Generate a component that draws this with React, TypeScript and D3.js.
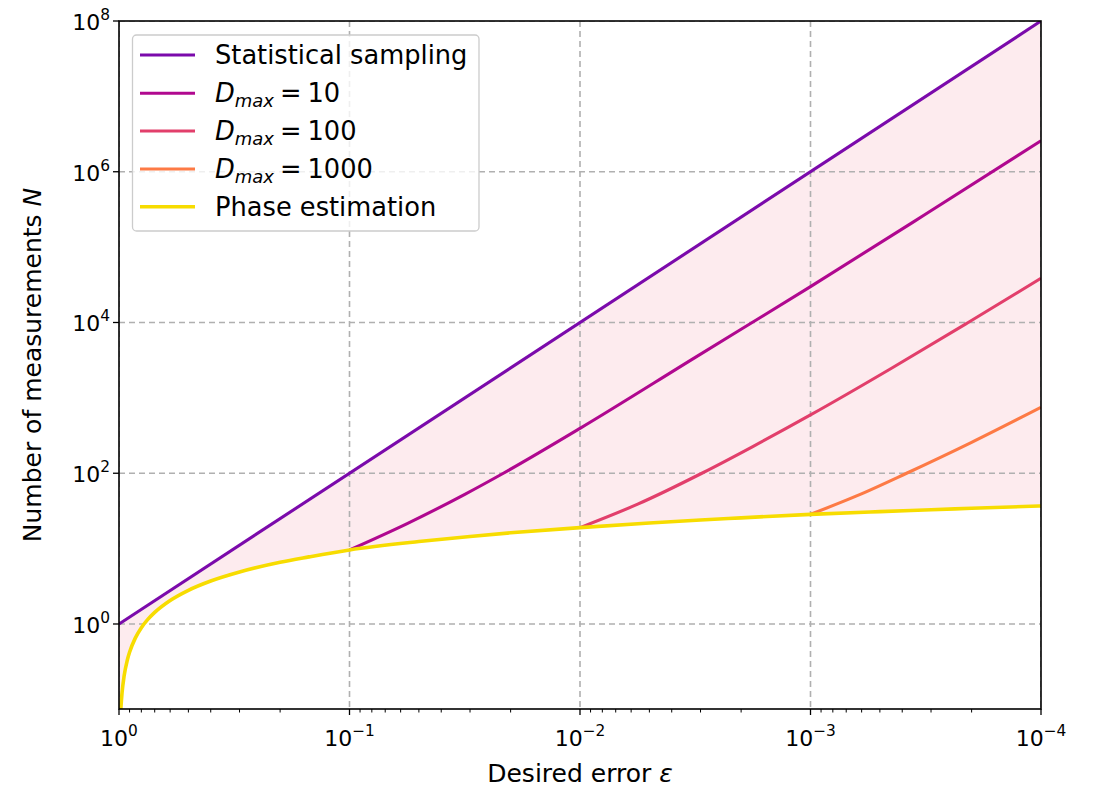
import React from "react";
import * as d3 from "d3";

const samplingEps = [1, 1e-4];
const samplingN = [1, 1e8];

const phaseEps = [0.995, 0.99, 0.98, 0.97, 0.95, 0.92, 0.9, 0.85, 0.8, 0.75, 0.7, 0.6, 0.5, 0.4, 0.3, 0.2, 0.15, 0.1, 0.05, 0.03, 0.02, 0.01, 0.005, 0.003, 0.002, 0.001, 5e-4, 3e-4, 2e-4, 1e-4];
const phaseN = [0.02, 0.04, 0.081, 0.122, 0.205, 0.333, 0.421, 0.649, 0.892, 1.15, 1.425, 2.05, 2.8, 3.72, 4.9, 6.6, 7.77, 9.6, 12.4, 14.5, 16.2, 19.0, 21.9, 24.0, 25.6, 28.5, 31.0, 32.8, 34.3, 36.8];

const d10Eps = [0.1, 0.0562, 0.0316, 0.0215, 0.01, 0.00316, 0.001, 3.16e-4, 1e-4];
const d10N = [9.6, 21.5, 52.5, 100, 394, 3450, 29900, 275000, 2.58e6];

const d100Eps = [0.01, 0.00562, 0.00296, 0.00178, 0.001, 4.47e-4, 2.07e-4, 1e-4];
const d100N = [19.0, 38.9, 100, 226, 593, 2450, 10000, 38600];

const d1000Eps = [0.001, 6.31e-4, 3.83e-4, 2.0e-4, 1e-4];
const d1000N = [28.5, 50, 100, 257, 750];

const xTickExps = [0, -1, -2, -3, -4];
const yTickExps = [0, 2, 4, 6, 8];

const legendLabels = ["Statistical sampling", "10", "100", "1000", "Phase estimation"];
const seriesColors = ["#7b0aab", "#b0088f", "#e23f6b", "#fd7a45", "#f7dc00"];

const W = 1099;
const H = 787;
const left = 119;
const right = 1041;
const top = 21;
const bottom = 709;

const FONT = "'DejaVu Sans', sans-serif";

const zip = (xs: number[], ys: number[]) => xs.map((x, i) => [x, ys[i]] as [number, number]);

export default function App() {
  const x = d3.scaleLog().domain([1, 1e-4]).range([left, right]);
  const y = d3.scaleLog().domain([0.0745, 1e8]).range([bottom, top]);

  const line = d3
    .line<[number, number]>()
    .x((d) => x(d[0]))
    .y((d) => y(d[1]))
    .curve(d3.curveMonotoneX);

  // Shaded band between statistical sampling and phase estimation
  const area = d3
    .area<[number, number]>()
    .x((d) => x(d[0]))
    .y0((d) => y(d[1]))
    .y1((d) => y(1 / (d[0] * d[0])))
    .curve(d3.curveMonotoneX);

  const phase = zip(phaseEps, phaseN);
  const bandPts: [number, number][] = [[1, 0.0745 * 0.5], ...phase];

  const series = [
    zip(samplingEps, samplingN),
    zip(d10Eps, d10N),
    zip(d100Eps, d100N),
    zip(d1000Eps, d1000N),
    phase,
  ];
  const widths = [3.1, 3.1, 3.1, 3.1, 3.6];

  const minorX: number[] = [];
  for (let e = 0; e > -4; e--) {
    for (let k = 2; k <= 9; k++) minorX.push(k * Math.pow(10, e - 1));
  }

  const tickFs = 22;
  const legendFs = 25.7;
  const legendRows = [55, 93.3, 131, 169, 206.7];

  return (
    <svg
      width={W}
      height={H}
      style={{ position: "absolute", left: 0, top: 0, display: "block", background: "#fff" }}
      fontFamily={FONT}
    >
      <defs>
        <clipPath id="plotArea">
          <rect x={left} y={top} width={right - left} height={bottom - top} />
        </clipPath>
      </defs>

      <g clipPath="url(#plotArea)">
        <path d={area(bandPts) ?? ""} fill="#fdebee" stroke="none" />
        {/* dashed grid */}
        {xTickExps.map((e) => (
          <line
            key={"gx" + e}
            x1={x(Math.pow(10, e))}
            x2={x(Math.pow(10, e))}
            y1={top}
            y2={bottom}
            stroke="#b0b0b0"
            strokeWidth={1.6}
            strokeDasharray="6,4"
          />
        ))}
        {yTickExps.map((e) => (
          <line
            key={"gy" + e}
            x1={left}
            x2={right}
            y1={y(Math.pow(10, e))}
            y2={y(Math.pow(10, e))}
            stroke="#b0b0b0"
            strokeWidth={1.6}
            strokeDasharray="6,4"
          />
        ))}
        {series.map((s, i) => (
          <path
            key={"s" + i}
            d={line(s) ?? ""}
            fill="none"
            stroke={seriesColors[i]}
            strokeWidth={widths[i]}
            strokeLinecap="butt"
          />
        ))}
      </g>

      {/* frame */}
      <rect x={left} y={top} width={right - left} height={bottom - top} fill="none" stroke="#000" strokeWidth={1.6} />

      {/* x ticks */}
      {xTickExps.map((e) => (
        <g key={"xt" + e}>
          <line x1={x(Math.pow(10, e))} x2={x(Math.pow(10, e))} y1={bottom} y2={bottom + 6} stroke="#000" strokeWidth={1.3} />
          <text x={x(Math.pow(10, e))} y={bottom + 37} textAnchor="middle" fontSize={tickFs} fill="#000">
            10
            <tspan fontSize={tickFs * 0.7} dy={-10}>
              {e === 0 ? "0" : "\u2212" + Math.abs(e)}
            </tspan>
          </text>
        </g>
      ))}
      {minorX.map((v, i) => (
        <line key={"mx" + i} x1={x(v)} x2={x(v)} y1={bottom} y2={bottom + 3.5} stroke="#000" strokeWidth={1} />
      ))}

      {/* y ticks */}
      {yTickExps.map((e) => (
        <g key={"yt" + e}>
          <line x1={left - 6} x2={left} y1={y(Math.pow(10, e))} y2={y(Math.pow(10, e))} stroke="#000" strokeWidth={1.3} />
          <text x={left - 9} y={y(Math.pow(10, e)) + 9} textAnchor="end" fontSize={tickFs} fill="#000">
            10
            <tspan fontSize={tickFs * 0.7} dy={-10}>
              {String(e)}
            </tspan>
          </text>
        </g>
      ))}

      {/* axis labels */}
      <text x={(left + right) / 2} y={782} textAnchor="middle" fontSize={25} fill="#000">
        Desired error <tspan fontStyle="italic">ε</tspan>
      </text>
      <text transform={`translate(41, ${(top + bottom) / 2}) rotate(-90)`} textAnchor="middle" fontSize={25} fill="#000">
        Number of measurements <tspan fontStyle="italic">N</tspan>
      </text>

      {/* legend */}
      <rect x={132.5} y={35} width={346.5} height={196} rx={4} fill="#fff" fillOpacity={0.8} stroke="#cccccc" strokeWidth={1.3} />
      {legendLabels.map((lab, i) => (
        <g key={"lg" + i}>
          <line x1={140} x2={195} y1={legendRows[i]} y2={legendRows[i]} stroke={seriesColors[i]} strokeWidth={widths[i]} />
          {i === 0 || i === 4 ? (
            <text x={215} y={legendRows[i] + 9} fontSize={legendFs} fill="#000">
              {lab}
            </text>
          ) : (
            <text x={215} y={legendRows[i] + 9} fontSize={legendFs} fill="#000">
              <tspan fontStyle="italic">D</tspan>
              <tspan fontStyle="italic" fontSize={legendFs * 0.7} dy={5}>
                max
              </tspan>
              <tspan dy={-5} dx={6}>
                =
              </tspan>
              <tspan dx={6}>{lab}</tspan>
            </text>
          )}
        </g>
      ))}
    </svg>
  );
}
